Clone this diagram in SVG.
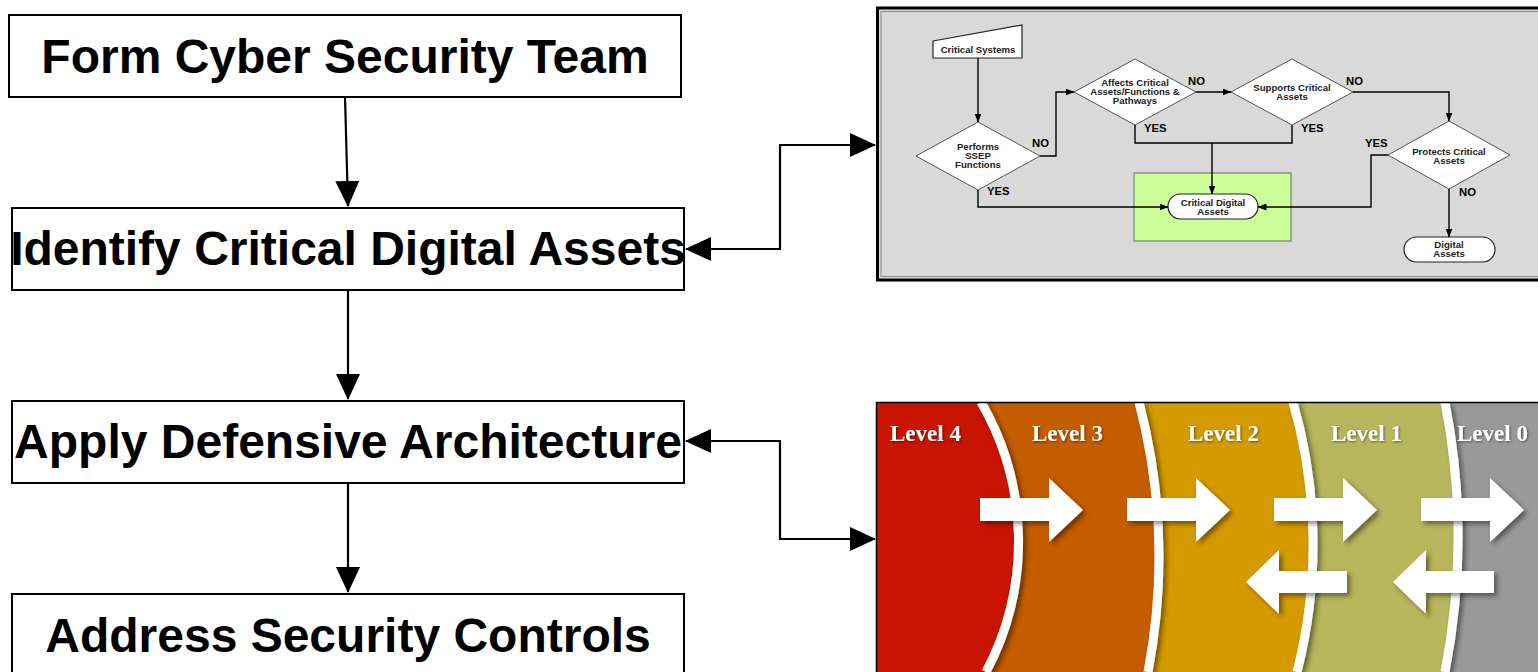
<svg xmlns="http://www.w3.org/2000/svg" width="1538" height="672" viewBox="0 0 1538 672">
<style>
.box{fill:#fff;stroke:#000;stroke-width:2}
.big{font-family:"Liberation Sans",Arial,sans-serif;font-weight:bold;font-size:48px;fill:#000;text-anchor:middle}
.conn{fill:none;stroke:#000;stroke-width:2.2}
.fc{fill:none;stroke:#000;stroke-width:1.4}
.dia{fill:#fff;stroke:#555;stroke-width:1}
.term{fill:#fff;stroke:#222;stroke-width:1.2}
.ft{font-family:"Liberation Sans",Arial,sans-serif;font-weight:bold;font-size:9.6px;fill:#222;text-anchor:middle}
.lb{font-family:"Liberation Sans",Arial,sans-serif;font-weight:bold;font-size:11.3px;fill:#000}
.lv{font-family:"Liberation Serif","Times New Roman",serif;font-weight:bold;font-size:23px;fill:#fff}
.band{fill:none;stroke:#fff;stroke-width:9}
.warr{fill:#fff}
</style>
<defs>
<marker id="ah" viewBox="0 0 26 24" refX="25" refY="12" markerWidth="26" markerHeight="24" markerUnits="userSpaceOnUse" orient="auto-start-reverse">
<path d="M0,0 L26,12 L0,24 Z" fill="#000"/>
</marker>
<marker id="sh" viewBox="0 0 9 7" refX="8.5" refY="3.5" markerWidth="9" markerHeight="7" markerUnits="userSpaceOnUse" orient="auto">
<path d="M0,0 L9,3.5 L0,7 Z" fill="#000"/>
</marker>
<filter id="ds" x="-20%" y="-20%" width="140%" height="140%">
<feDropShadow dx="3" dy="3" stdDeviation="2.5" flood-color="#000" flood-opacity="0.45"/>
</filter>
<filter id="ts" x="-10%" y="-20%" width="120%" height="140%">
<feDropShadow dx="1" dy="1" stdDeviation="1" flood-color="#000" flood-opacity="0.5"/>
</filter>
</defs>

<g id="node-form-team">
<rect class="box" x="9" y="15" width="672" height="82"/>
<text class="big" x="345" y="73">Form Cyber Security Team</text>
</g>
<g id="node-identify-cda">
<rect class="box" x="12" y="208" width="672" height="82"/>
<text class="big" x="348" y="265">Identify Critical Digital Assets</text>
</g>
<g id="node-apply-defensive">
<rect class="box" x="12" y="401" width="672" height="82"/>
<text class="big" x="348" y="458">Apply Defensive Architecture</text>
</g>
<g id="node-address-controls">
<rect class="box" x="12" y="594" width="672" height="90"/>
<text class="big" x="348" y="652">Address Security Controls</text>
</g>

<g id="cda-flowchart">
<rect x="877.5" y="8" width="662" height="272" fill="#d9d9d9" stroke="#000" stroke-width="3"/>
<rect x="881" y="11.5" width="660" height="265" fill="none" stroke="#888" stroke-width="1"/>
<rect x="1134" y="173" width="157" height="68" fill="#ccff99" stroke="#666" stroke-width="1"/>
<path d="M933,41 L1022,25 L1022,58 L933,58 Z" fill="#fff" stroke="#222" stroke-width="1.2"/>
<text class="ft" x="978" y="52.5">Critical Systems</text>
<polygon class="dia" points="916,156 978,122 1040,156 978,190"/>
<text class="ft" x="978" y="150">Performs</text>
<text class="ft" x="978" y="159">SSEP</text>
<text class="ft" x="978" y="168">Functions</text>
<polygon class="dia" points="1074,92 1135,59 1196,92 1135,125"/>
<text class="ft" x="1135" y="86">Affects Critical</text>
<text class="ft" x="1135" y="95">Assets/Functions &amp;</text>
<text class="ft" x="1135" y="104">Pathways</text>
<polygon class="dia" points="1231,92 1292,59 1353,92 1292,125"/>
<text class="ft" x="1292" y="91">Supports Critical</text>
<text class="ft" x="1292" y="100">Assets</text>
<polygon class="dia" points="1388,155 1449,121 1510,155 1449,189"/>
<text class="ft" x="1449" y="155">Protects Critical</text>
<text class="ft" x="1449" y="164">Assets</text>
<rect class="term" x="1168" y="194" width="90" height="25" rx="12.5"/>
<text class="ft" x="1213" y="206">Critical Digital</text>
<text class="ft" x="1213" y="215">Assets</text>
<rect class="term" x="1404" y="237" width="91" height="25" rx="12.5"/>
<text class="ft" x="1449" y="248">Digital</text>
<text class="ft" x="1449" y="257">Assets</text>
<g id="fc-connectors">
<path class="fc" d="M978,58 V122" marker-end="url(#sh)"/>
<path class="fc" d="M1040,156 H1056 V92 H1074" marker-end="url(#sh)"/>
<path class="fc" d="M978,190 V207 H1168" marker-end="url(#sh)"/>
<path class="fc" d="M1196,92 H1231" marker-end="url(#sh)"/>
<path class="fc" d="M1135,125 V143 H1292 V125"/>
<path class="fc" d="M1212,143 V194" marker-end="url(#sh)"/>
<path class="fc" d="M1353,92 H1449 V121" marker-end="url(#sh)"/>
<path class="fc" d="M1388,155 H1371 V207 H1258" marker-end="url(#sh)"/>
<path class="fc" d="M1449,189 V237" marker-end="url(#sh)"/>
</g>
<text class="lb" x="1032" y="147">NO</text>
<text class="lb" x="987" y="195">YES</text>
<text class="lb" x="1188" y="85">NO</text>
<text class="lb" x="1144" y="132">YES</text>
<text class="lb" x="1346" y="85">NO</text>
<text class="lb" x="1301" y="132">YES</text>
<text class="lb" x="1365" y="147">YES</text>
<text class="lb" x="1459" y="196">NO</text>
</g>

<g id="levels-image">
<rect x="876" y="402" width="662" height="270" fill="#999"/>
<path d="M876,402 H1445 A707,707 0 0 1 1445,672 H876 Z" fill="#b6b65c"/>
<path d="M876,402 H1293 A515,515 0 0 1 1297,672 H876 Z" fill="#d49a00"/>
<path d="M876,402 H1139 A615,615 0 0 1 1148,672 H876 Z" fill="#c45c00"/>
<path d="M876,402 H981 A278,278 0 0 1 986,672 H876 Z" fill="#c81400"/>
<g filter="url(#ds)">
<path class="band" d="M981,402 A278,278 0 0 1 986,672"/>
<path class="band" d="M1139,402 A615,615 0 0 1 1148,672"/>
<path class="band" d="M1293,402 A515,515 0 0 1 1297,672"/>
<path class="band" d="M1445,402 A707,707 0 0 1 1445,672"/>
</g>
<g filter="url(#ds)">
<polygon class="warr" points="980,498 1049,498 1049,478 1083,510 1049,542 1049,521 980,521"/>
<polygon class="warr" points="1127,498 1196,498 1196,478 1230,510 1196,542 1196,521 1127,521"/>
<polygon class="warr" points="1274,498 1343,498 1343,478 1377,510 1343,542 1343,521 1274,521"/>
<polygon class="warr" points="1421,498 1490,498 1490,478 1524,510 1490,542 1490,521 1421,521"/>
<polygon class="warr" points="1246,582 1279,550 1279,571 1347,571 1347,593 1279,593 1279,614"/>
<polygon class="warr" points="1393,582 1426,550 1426,571 1494,571 1494,593 1426,593 1426,614"/>
</g>
<g filter="url(#ts)">
<text class="lv" x="890" y="441">Level 4</text>
<text class="lv" x="1032" y="441">Level 3</text>
<text class="lv" x="1188" y="441">Level 2</text>
<text class="lv" x="1331" y="441">Level 1</text>
<text class="lv" x="1457" y="441">Level 0</text>
</g>
<path d="M876.5,672 V402.5 H1538" fill="none" stroke="#000" stroke-width="1.5"/>
</g>

<g id="connectors">
<path class="conn" d="M345,97 L348,206" marker-end="url(#ah)"/>
<path class="conn" d="M348,290 V399" marker-end="url(#ah)"/>
<path class="conn" d="M348,483 V592" marker-end="url(#ah)"/>
<path class="conn" d="M686,249 H780 V145 H875" marker-start="url(#ah)" marker-end="url(#ah)"/>
<path class="conn" d="M686,441 H780 V539 H875" marker-start="url(#ah)" marker-end="url(#ah)"/>
</g>
</svg>
